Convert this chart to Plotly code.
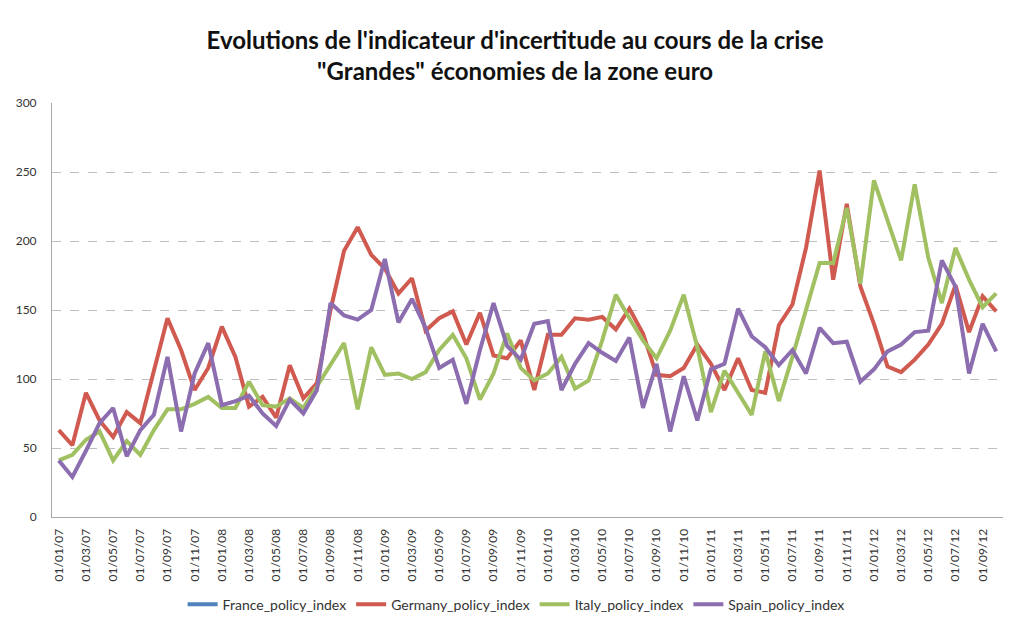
import pandas as pd
import plotly.graph_objects as go

# Monthly categories: Jan 2007 -> Oct 2012
months = [d.strftime("%d/%m/%y") for d in pd.date_range("2007-01-01", "2012-10-01", freq="MS")]
tick_labels = months[::2]

france = [None] * len(months)

germany = [63, 52, 90, 70, 58, 76, 68, 106, 144, 121, 92, 108,
           138, 116, 80, 87, 72, 110, 86, 97, 150, 193, 210, 190,
           180, 162, 173, 135, 144, 149, 125, 148, 117, 115, 128, 92,
           132, 132, 144, 143, 145, 136, 151, 133, 103, 102, 108, 125,
           111, 92, 115, 92, 90, 139, 154, 195, 251, 172, 227, 167,
           140, 109, 105, 114, 125, 140, 168, 134, 160, 149]

italy = [41, 45, 56, 62, 41, 55, 45, 63, 78, 78, 82, 87,
         79, 79, 98, 81, 80, 86, 79, 95, 111, 126, 78, 123,
         103, 104, 100, 105, 121, 132, 115, 85, 104, 133, 108, 99,
         104, 116, 93, 99, 128, 161, 144, 128, 115, 135, 161, 123,
         76, 106, 90, 74, 120, 84, 116, 149, 184, 184, 224, 169,
         244, 215, 186, 241, 188, 155, 195, 172, 152, 162]

spain = [41, 29, 48, 68, 79, 44, 63, 74, 116, 62, 104, 126,
         81, 84, 88, 75, 66, 85, 75, 92, 155, 146, 143, 150,
         187, 141, 158, 137, 108, 114, 82, 121, 155, 124, 114, 140,
         142, 92, 111, 126, 119, 113, 130, 79, 111, 62, 102, 70,
         107, 111, 151, 131, 123, 110, 121, 104, 137, 126, 127, 98,
         107, 120, 125, 134, 135, 186, 167, 104, 140, 120]

series = [
    ("France_policy_index", france, "#4F81BD"),
    ("Germany_policy_index", germany, "#D05A50"),
    ("Italy_policy_index", italy, "#A0C062"),
    ("Spain_policy_index", spain, "#8B6DB0"),
]

fig = go.Figure()
for name, vals, color in series:
    fig.add_trace(go.Scatter(
        x=months, y=vals, name=name, mode="lines",
        line=dict(color=color, width=4),
        connectgaps=False,
    ))

fig.update_layout(
    width=1012, height=626,
    margin=dict(l=52, r=9, t=103, b=109, autoexpand=False),
    paper_bgcolor="white", plot_bgcolor="white",
    font=dict(family="Lato, Open Sans, sans-serif", size=12, color="#333333"),
    title=dict(
        text="<b>Evolutions de l'indicateur d'incertitude au cours de la crise<br>\"Grandes\" économies de la zone euro</b>",
        x=0.509, xanchor="center", y=0.922, yanchor="top",
        font=dict(family="Lato, Open Sans, sans-serif", size=24, color="#111111"),
    ),
    showlegend=True,
    legend=dict(
        orientation="h",
        xref="container", x=0.51, xanchor="center",
        yref="container", y=0.034, yanchor="middle",
        font=dict(size=14, color="#333333"),
        itemwidth=30, tracegroupgap=0,
    ),
)

fig.update_xaxes(
    type="category",
    categoryorder="array", categoryarray=months,
    range=[-0.5, len(months) - 0.5],
    tickmode="array", tickvals=tick_labels, ticktext=tick_labels,
    tickangle=-90,
    showgrid=False,
    showline=True, linecolor="#A6A6A6", linewidth=1,
    ticks="", tickfont=dict(size=12, color="#333333"),
    ticklabelstandoff=6,
    automargin=False,
)
fig.update_yaxes(
    range=[0, 300], dtick=50,
    showgrid=True, gridcolor="#BFBFBF", griddash="dash", gridwidth=1,
    showline=True, linecolor="#A6A6A6", linewidth=1,
    zeroline=False,
    ticks="", tickfont=dict(size=12, color="#333333"),
    ticklabelstandoff=12,
    automargin=False,
)

fig.write_html("out.html", config={"displayModeBar": False},
               post_script="document.body.style.margin='0';")
